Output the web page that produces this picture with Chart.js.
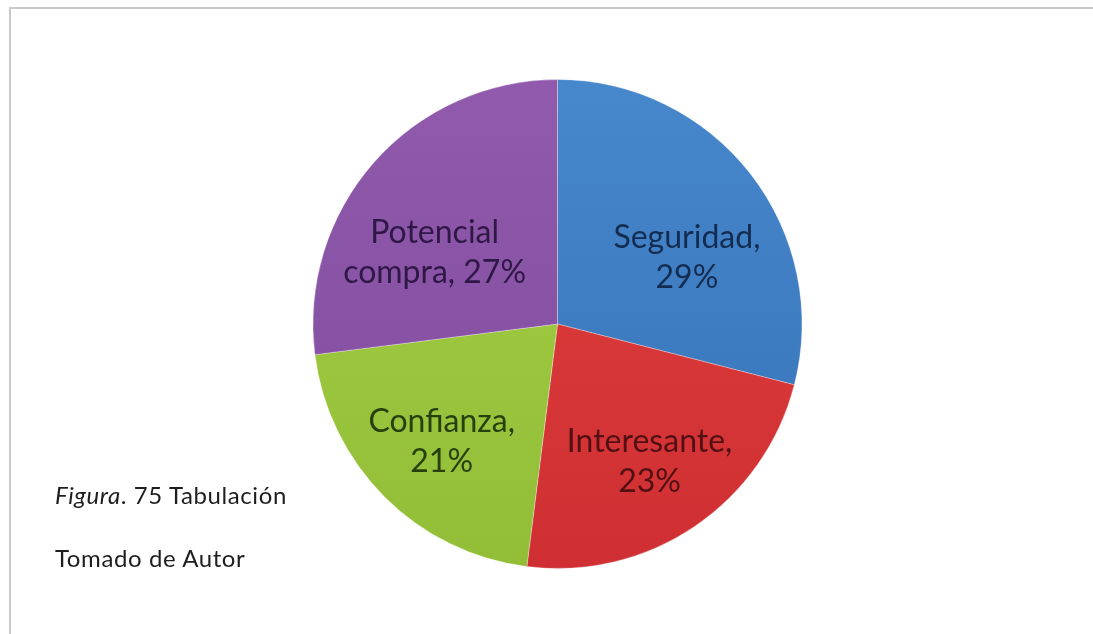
<!DOCTYPE html>
<html>
<head>
<meta charset="utf-8">
<title>Tabulación</title>
<script src="https://cdn.jsdelivr.net/npm/chart.js@4"></script>
<style>
  html, body { margin: 0; padding: 0; background: #fff; }
  #wrap { position: relative; width: 1093px; height: 634px; overflow: hidden; }
  #frame {
    position: absolute; left: 9px; top: 7px; right: -5px; bottom: -5px;
    border-top: 2px solid #c9c9c9; border-left: 2px solid #c9c9c9;
  }
  canvas { position: absolute; left: 0; top: 0; }
  .nota {
    position: absolute; left: 55px; font-family: Lato, "Open Sans", sans-serif;
    font-size: 24px; line-height: 1.2; letter-spacing: 0.6px; color: #1e1e1e; white-space: nowrap;
  }
</style>
</head>
<body>
<div id="wrap">
  <div id="frame"></div>
  <canvas id="pie-chart" width="1093" height="634"></canvas>
  <div class="nota" style="top:481px"><i>Figura</i>. 75 Tabulación</div>
  <div class="nota" style="top:544px">Tomado de Autor</div>
</div>
<script>
  const categorias = ['Seguridad', 'Interesante', 'Confianza', 'Potencial compra'];
  const porcentajes = [29, 23, 21, 27];
  // etiqueta en dos líneas dentro de cada sector
  const lineasEtiqueta = [
    ['Seguridad,', '29%'],
    ['Interesante,', '23%'],
    ['Confianza,', '21%'],
    ['Potencial', 'compra, 27%'],
  ];
  // tono claro arriba, oscuro abajo
  const coloresClaros = ['#4787cb', '#e2403f', '#a4cf45', '#915aad'];
  const coloresOscuros = ['#3672b8', '#cf2f32', '#92bd37', '#7f4c9c'];
  const coloresTexto = ['#132c52', '#521014', '#27400d', '#2f1746'];

  function degradado(context) {
    const chart = context.chart;
    const area = chart.chartArea;
    if (!area) return coloresClaros[context.dataIndex];
    const g = chart.ctx.createLinearGradient(0, area.top, 0, area.bottom);
    g.addColorStop(0, coloresClaros[context.dataIndex]);
    g.addColorStop(1, coloresOscuros[context.dataIndex]);
    return g;
  }

  // dibuja las etiquetas dentro de los sectores
  const etiquetasPlugin = {
    id: 'etiquetas',
    afterDatasetsDraw(chart) {
      const ctx = chart.ctx;
      const arcs = chart.getDatasetMeta(0).data;
      ctx.save();
      ctx.font = '32px Lato, "Open Sans", sans-serif';
      ctx.textAlign = 'center';
      ctx.textBaseline = 'middle';
      arcs.forEach((arc, i) => {
        const mid = (arc.startAngle + arc.endAngle) / 2;
        const sinA = Math.sin(mid);
        // las etiquetas de la mitad superior quedan más cerca del centro
        const ky = sinA < 0 ? 0.44 : 0.68;
        const x = arc.x + Math.cos(mid) * arc.outerRadius * 0.67;
        const y = arc.y + sinA * arc.outerRadius * ky;
        ctx.fillStyle = coloresTexto[i];
        const lines = lineasEtiqueta[i];
        lines.forEach((t, j) => {
          ctx.fillText(t, x, y + (j - (lines.length - 1) / 2) * 40);
        });
      });
      ctx.restore();
    },
  };

  new Chart(document.getElementById('pie-chart'), {
    type: 'pie',
    data: {
      labels: categorias,
      datasets: [
        {
          data: porcentajes,
          backgroundColor: degradado,
          borderColor: 'rgba(255,255,255,0.3)',
          borderWidth: 1,
        },
      ],
    },
    options: {
      responsive: false,
      animation: false,
      layout: {
        padding: { top: 79, bottom: 65, left: 312, right: 290 },
      },
      plugins: {
        legend: { display: false },
        tooltip: { enabled: false },
      },
    },
    plugins: [etiquetasPlugin],
  });
</script>
</body>
</html>
